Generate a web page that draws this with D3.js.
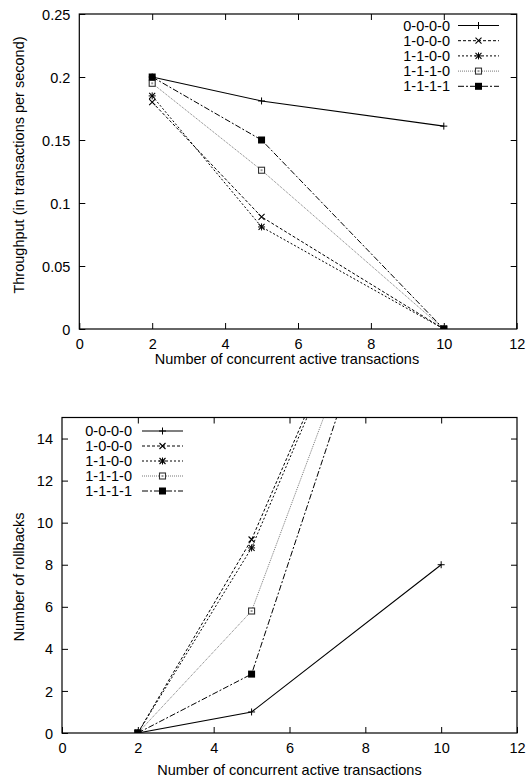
<!DOCTYPE html>
<html>
<head>
<meta charset="utf-8">
<script src="https://cdn.jsdelivr.net/npm/d3@7"></script>
<style>
  html, body { margin: 0; padding: 0; background: #fff; }
  svg { display: block; }
  text { font-family: "Liberation Sans", Arial, Helvetica, sans-serif; font-size: 14.5px; fill: #000; }
</style>
</head>
<body>
<svg id="chart" width="526" height="780"></svg>
<script>
// ---------- data ----------
const xValues = [2, 5, 10];
const seriesNames = ["0-0-0-0", "1-0-0-0", "1-1-0-0", "1-1-1-0", "1-1-1-1"];

// Throughput (transactions per second)
const throughput_0000 = [0.200, 0.181, 0.161];
const throughput_1000 = [0.180, 0.089, 0.000];
const throughput_1100 = [0.185, 0.081, 0.000];
const throughput_1110 = [0.195, 0.126, 0.000];
const throughput_1111 = [0.200, 0.150, 0.000];

// Number of rollbacks
const rollbacks_0000 = [0, 1.0, 8];
const rollbacks_1000 = [0, 9.2, 30];
const rollbacks_1100 = [0, 8.8, 30];
const rollbacks_1110 = [0, 5.8, 30];
const rollbacks_1111 = [0, 2.8, 30];

const xTicks = [0, 2, 4, 6, 8, 10, 12];
const yTicksTop = [0, 0.05, 0.1, 0.15, 0.2, 0.25];
const yTickLabelsTop = ["0", "0.05", "0.1", "0.15", "0.2", "0.25"];
const yTicksBottom = [0, 2, 4, 6, 8, 10, 12, 14];

const xLabel = "Number of concurrent active transactions";
const yLabelTop = "Throughput (in transactions per second)";
const yLabelBottom = "Number of rollbacks";

// ---------- styles ----------
const styles = [
  { dash: null,        color: "#000", width: 1.1, marker: "plus" },
  { dash: "3,2",       color: "#000", width: 1.0, marker: "cross" },
  { dash: "2,2",       color: "#000", width: 1.0, marker: "star" },
  { dash: "1,1",       color: "#777", width: 1.0, marker: "openSquare" },
  { dash: "6,2,2,2",   color: "#000", width: 1.0, marker: "filledSquare" }
];

const svg = d3.select("#chart");

function drawMarker(g, type, x, y) {
  const m = g.append("g").attr("transform", `translate(${x},${y})`);
  const s = 3.5;
  if (type === "plus" || type === "star") {
    m.append("path").attr("d", `M${-s},0H${s}M0,${-s}V${s}`).attr("stroke", "#000").attr("stroke-width", 1).attr("fill", "none");
  }
  if (type === "cross" || type === "star") {
    const c = 3;
    m.append("path").attr("d", `M${-c},${-c}L${c},${c}M${-c},${c}L${c},${-c}`).attr("stroke", "#000").attr("stroke-width", 1.1).attr("fill", "none");
  }
  if (type === "openSquare") {
    m.append("rect").attr("x", -3).attr("y", -3).attr("width", 6).attr("height", 6)
      .attr("fill", "#fff").attr("stroke", "#333").attr("stroke-width", 1.1);
    m.append("rect").attr("x", -1).attr("y", -1).attr("width", 2).attr("height", 2).attr("fill", "#999");
  }
  if (type === "filledSquare") {
    m.append("rect").attr("x", -3.5).attr("y", -3.5).attr("width", 7).attr("height", 7).attr("fill", "#000");
  }
}

function drawPanel(opts) {
  const { id, left, right, top, bottom, yDomain, yTicks, yTickLabels, yLabel, yLabelX, yLabelY, seriesData,
          tickLabelY, xLabelX, xLabelY, legend } = opts;
  const x = d3.scaleLinear().domain([0, 12]).range([left, right]);
  const y = d3.scaleLinear().domain(yDomain).range([bottom, top]);
  const g = svg.append("g");
  const tickLen = 6;

  // clip
  g.append("clipPath").attr("id", id).append("rect")
    .attr("x", left).attr("y", top).attr("width", right - left).attr("height", bottom - top);

  // ticks (mirror on all sides, inward)
  const xAxisB = d3.axisBottom(x).tickValues(xTicks).tickSize(-tickLen).tickFormat(d3.format("d"));
  const gxb = g.append("g").attr("transform", `translate(0,${bottom})`).call(xAxisB);
  gxb.select(".domain").remove();
  gxb.selectAll("text").attr("dy", null)
    .attr("y", tickLabelY - bottom).style("font-size", "14.5px").style("font-family", "Liberation Sans, Arial, sans-serif");
  const xAxisT = d3.axisTop(x).tickValues(xTicks.slice(1, -1)).tickSize(-tickLen).tickFormat("");
  g.append("g").attr("transform", `translate(0,${top})`).call(xAxisT).select(".domain").remove();

  const yAxisL = d3.axisLeft(y).tickValues(yTicks).tickSize(-tickLen)
    .tickFormat((d, i) => yTickLabels ? yTickLabels[i] : d3.format("d")(d)).tickPadding(9);
  const gyl = g.append("g").attr("transform", `translate(${left},0)`).call(yAxisL);
  gyl.select(".domain").remove();
  gyl.selectAll("text").style("font-size", "14.5px").style("font-family", "Liberation Sans, Arial, sans-serif").attr("dy", "0.35em");
  const yAxisR = d3.axisRight(y).tickValues(yTicks.slice(1)).tickSize(-tickLen).tickFormat("");
  g.append("g").attr("transform", `translate(${right},0)`).call(yAxisR).select(".domain").remove();
  g.selectAll(".tick line").attr("stroke", "#000").attr("stroke-width", 1);

  // frame
  g.append("rect").attr("x", left).attr("y", top).attr("width", right - left).attr("height", bottom - top)
    .attr("fill", "none").attr("stroke", "#000").attr("stroke-width", 1.2);

  // labels
  g.append("text").attr("x", xLabelX).attr("y", xLabelY).attr("text-anchor", "middle").text(xLabel);
  g.append("text").attr("transform", `translate(${yLabelX},${yLabelY}) rotate(-90)`)
    .attr("text-anchor", "middle").text(yLabel);

  // series
  const plot = g.append("g").attr("clip-path", `url(#${id})`);
  const line = d3.line().x(d => x(d[0])).y(d => y(d[1]));
  seriesData.forEach((vals, i) => {
    const st = styles[i];
    const pts = xValues.map((xv, j) => [xv, vals[j]]);
    plot.append("path").datum(pts).attr("d", line).attr("fill", "none")
      .attr("stroke", st.color).attr("stroke-width", st.width)
      .attr("stroke-dasharray", st.dash);
    pts.forEach(p => {
      if (p[1] >= yDomain[0] && p[1] <= yDomain[1]) drawMarker(plot, st.marker, x(p[0]), y(p[1]));
    });
  });

  // legend
  const lg = g.append("g");
  seriesNames.forEach((name, i) => {
    const st = styles[i];
    const yy = legend.y0 + i * legend.dy;
    lg.append("text").attr("x", legend.textX).attr("y", yy).attr("dy", "0.35em")
      .attr("text-anchor", "end").text(name);
    lg.append("line").attr("x1", legend.x1).attr("x2", legend.x2).attr("y1", yy).attr("y2", yy)
      .attr("stroke", st.color).attr("stroke-width", st.width).attr("stroke-dasharray", st.dash);
    drawMarker(lg, st.marker, (legend.x1 + legend.x2) / 2, yy);
  });
}

drawPanel({
  id: "clipTop", left: 79.3, right: 516.7, top: 14, bottom: 329,
  yDomain: [0, 0.25], yTicks: yTicksTop, yTickLabels: yTickLabelsTop,
  yLabel: yLabelTop, yLabelX: 24, yLabelY: 165,
  seriesData: [throughput_0000, throughput_1000, throughput_1100, throughput_1110, throughput_1111],
  tickLabelY: 348.5, xLabelX: 287, xLabelY: 364,
  legend: { textX: 450, x1: 458, x2: 499, y0: 25.5, dy: 15.2 }
});

drawPanel({
  id: "clipBottom", left: 62, right: 517, top: 417.5, bottom: 733,
  yDomain: [0, 15], yTicks: yTicksBottom, yTickLabels: null,
  yLabel: yLabelBottom, yLabelX: 24, yLabelY: 577,
  seriesData: [rollbacks_0000, rollbacks_1000, rollbacks_1100, rollbacks_1110, rollbacks_1111],
  tickLabelY: 753, xLabelX: 289.5, xLabelY: 775,
  legend: { textX: 132, x1: 142, x2: 183, y0: 431, dy: 15 }
});
</script>
</body>
</html>
